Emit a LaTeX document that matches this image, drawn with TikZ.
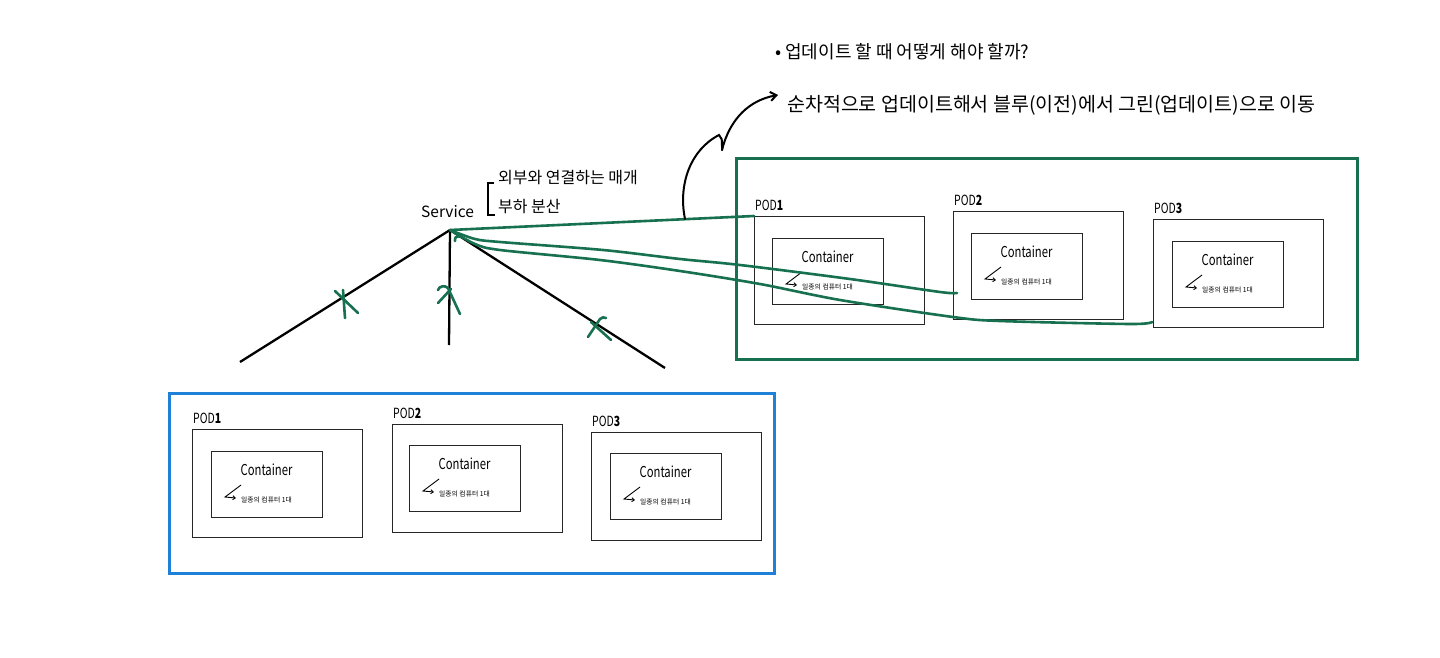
\documentclass[tikz,border=0pt]{standalone}
\usepackage{fontspec}
\setmainfont{Noto Sans CJK KR}
\newfontfamily\narrowfont[FakeStretch=0.75]{Noto Sans CJK KR}
\usetikzlibrary{arrows.meta}
\definecolor{grn}{HTML}{17704F}
\definecolor{blu}{HTML}{1F80D8}
\tikzset{
  frame/.style={draw, line width=2.6pt, inner sep=0, anchor=north west},
  podbox/.style={draw=black!85, line width=1.3pt, inner sep=0, anchor=north west, minimum width=170, minimum height=108},
  contbox/.style={draw=black!85, line width=1.3pt, inner sep=0, anchor=north west, minimum width=111, minimum height=66},
  podlabel/.style={anchor=south west, inner sep=0, font=\narrowfont\fontsize{14}{14}\selectfont},
  conttitle/.style={inner sep=0, font=\narrowfont\fontsize{15}{15}\selectfont},
  contnote/.style={anchor=west, inner sep=0, font=\fontsize{6.8}{7}\selectfont},
  notearrow/.style={draw=black, line width=0.9pt, -{Straight Barb[length=2.5pt,width=4pt]}},
  treeline/.style={draw=black, line width=2.3pt},
  gline/.style={draw=grn, line width=2.6pt, line cap=round},
  xmark/.style={draw=grn, line width=2.6pt, line cap=round},
  handtext/.style={inner sep=0, anchor=west},
}
\newcommand\podunit[6]{%
  \node[podbox] (#1) at (#3,#4) {};
  \node[podlabel] (#1l) at (#3+1,#4-5) {POD\textbf{#2}};
  \node[contbox] (#1c) at (#5,#6) {};
  \node[conttitle] (#1t) at (#5+55.5,#6+19) {Container};
  \node[contnote] (#1n) at (#5+30,#6+49) {일종의 컴퓨터 1대};
  \draw[notearrow] (#5+30,#6+34) -- (#5+14,#6+46) -- (#5+25,#6+47);
}
\begin{document}
\begin{tikzpicture}[x=1pt,y=-1pt]
\useasboundingbox[fill=white] (0,0) rectangle (1440,658);

% frames
\node[frame, draw=blu, minimum width=605, minimum height=180] (blueframe) at (168,392) {};
\node[frame, draw=grn, minimum width=621, minimum height=201] (greenframe) at (735,157) {};

% pods bottom
\podunit{b1}{1}{192}{429}{211}{451}
\podunit{b2}{2}{392}{424}{409}{445}
\podunit{b3}{3}{591}{432}{610}{453}
% pods top
\podunit{t1}{1}{754}{216}{772}{238}
\podunit{t2}{2}{953}{211}{971}{233}
\podunit{t3}{3}{1153}{219}{1172}{241}

% service
\node[handtext, font=\fontsize{15.5}{15.5}\selectfont] (svc) at (421,212) {Service};
\draw[black, line width=1.6pt] (494,183) -- (488,183) -- (488,215) -- (495,215);
\node[handtext, font=\fontsize{16}{16}\selectfont] (svc1) at (498,178) {외부와 연결하는 매개};
\node[handtext, font=\fontsize{16}{16}\selectfont] (svc2) at (498,207) {부하 분산};

% tree
\coordinate (apex) at (450,230);
\coordinate (tl) at (240,362);
\coordinate (tc) at (449,345);
\coordinate (tr) at (665,368);
\draw[treeline] (apex) -- (tl);
\draw[treeline] (apex) -- (tc);
\draw[treeline] (apex) -- (tr);

% x marks
\draw[xmark] (343,290) -- (345,318);
\draw[xmark] (335,291) -- (358,313);
\draw[xmark] (438,290) .. controls (439,286) and (445,285) .. (448,288) -- (460,314);
\draw[xmark] (438,303) -- (451,289);
\draw[xmark] (588,337) -- (600,319) .. controls (602,317) and (604,317) .. (606,318);
\draw[xmark] (591,322) -- (611,340);

% green connectors
\coordinate (e2) at (957,293);
\coordinate (e3) at (1152,322);
\draw[gline] (apex) -- (t1.north west);
\draw[gline] plot[smooth, tension=0.5] coordinates {(apex) (475,239) (500,242) (603,250) (680,259) (740,265) (850,279) (940,292) (e2)};
\draw[gline] plot[smooth, tension=0.5] coordinates {(apex) (475,244) (500,250) (600,260) (680,271) (760,284) (840,300) (953,317) (1000,321) (1130,324) (e3)};
\draw[gline] (455,241) .. controls (455,237) .. (461,236);

% curved arrow
\coordinate (ca) at (685,219);
\coordinate (cb) at (722,150);
\coordinate (cc) at (778,95);
\draw[black, line width=2pt, line cap=round] (ca) .. controls (678,185) and (690,150) .. (719,135) .. controls (722,138) .. (cb);
\draw[black, line width=2pt, line cap=round, -{Straight Barb[length=6pt,width=9pt]}] (cb) .. controls (730,118) and (750,100) .. (cc);

% headings
\node[handtext, font=\fontsize{18}{18}\selectfont] (h1) at (775,52) {• 업데이트 할 때 어떻게 해야 할까?};
\node[handtext, font=\fontsize{19.5}{19.5}\selectfont] (h2) at (787,105) {순차적으로 업데이트해서 블루(이전)에서 그린(업데이트)으로 이동};
\end{tikzpicture}
\end{document}
